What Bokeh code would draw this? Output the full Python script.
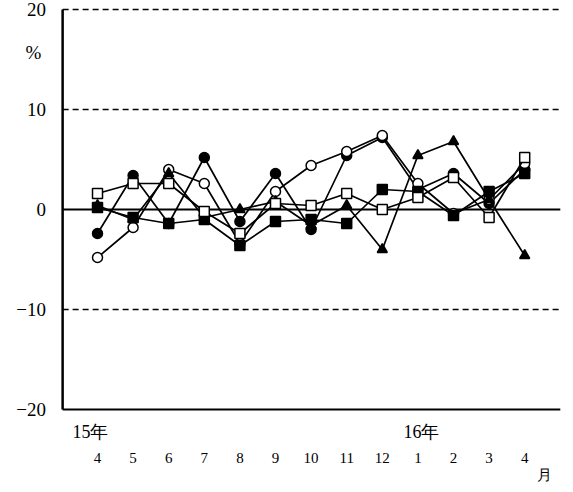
from bokeh.core.properties import value
from bokeh.embed import file_html
from bokeh.resources import INLINE
from bokeh.models import Range1d
from bokeh.plotting import figure

months = ["4", "5", "6", "7", "8", "9", "10", "11", "12", "1", "2", "3", "4"]
filled_circle = [-2.4, 3.4, -1.4, 5.2, -1.2, 3.6, -2.0, 5.4, 7.2, 2.0, 3.6, 0.6, 4.0]
open_circle = [-4.8, -1.8, 4.0, 2.6, -3.4, 1.8, 4.4, 5.8, 7.4, 2.6, -0.4, 1.0, 4.6]
filled_triangle = [0.4, -1.0, 3.6, -0.8, 0.0, 0.8, -1.6, 0.4, -4.0, 5.4, 6.8, 1.0, -4.6]
filled_square = [0.2, -0.8, -1.4, -1.0, -3.6, -1.2, -1.0, -1.4, 2.0, 1.8, -0.6, 1.8, 3.6]
open_square = [1.6, 2.6, 2.6, -0.2, -2.4, 0.6, 0.4, 1.6, 0.0, 1.2, 3.2, -0.8, 5.2]
y_ticks = [20, 10, 0, -10, -20]
y_tick_text = ["20", "10", "0", "\u221210", "\u221220"]

FONT = value("Liberation Serif")
xs = list(range(len(months)))
X0, X1 = -0.98, 13.0

# the whole canvas is the frame, so every text can be drawn in data units
p = figure(width=565, height=484, output_backend="svg", toolbar_location=None,
           x_range=Range1d(-2.725, 13.146), y_range=Range1d(-27.5, 20.9),
           min_border=0)
p.outline_line_color = None
p.grid.visible = False
p.axis.visible = False

for yv in [20, 10, -10]:
    p.line([X0, X1], [yv, yv], line_color="black", line_width=1.6, line_dash="6 4")
p.line([X0, X1], [0, 0], line_color="black", line_width=2)
p.line([X0, X1], [-20, -20], line_color="black", line_width=2)
p.line([X0, X0], [-20, 20], line_color="black", line_width=2.5)

series = [
    (filled_circle, "circle", "black"),
    (open_circle, "circle", "white"),
    (filled_triangle, "triangle", "black"),
    (filled_square, "square", "black"),
    (open_square, "square", "white"),
]
for ys, marker, fill in series:
    p.line(xs, ys, line_color="black", line_width=1.7)
    p.scatter(xs, ys, marker=marker, size=10, fill_color=fill, line_color="black", line_width=1.5)

p.text([-1.45] * len(y_ticks), y_ticks, text=y_tick_text, text_align="right",
       text_baseline="middle", text_font=FONT, text_font_size="19px", text_color="black")
p.text([-1.8], [15.7], text=["%"], text_align="center", text_baseline="middle",
       text_font=FONT, text_font_size="19px", text_color="black")
p.text(xs, [-24.8] * len(xs), text=months, text_align="center", text_baseline="middle",
       text_font=FONT, text_font_size="15px", text_color="black")
p.text([-0.2, 9.1], [-22.2, -22.2], text=["15年", "16年"], text_align="center",
       text_baseline="middle", text_font=FONT, text_font_size="18px", text_color="black")
p.text([12.55], [-26.5], text=["月"], text_align="center", text_baseline="middle",
       text_font=FONT, text_font_size="15px", text_color="black")

open("out.html", "w").write(file_html(p, INLINE))
